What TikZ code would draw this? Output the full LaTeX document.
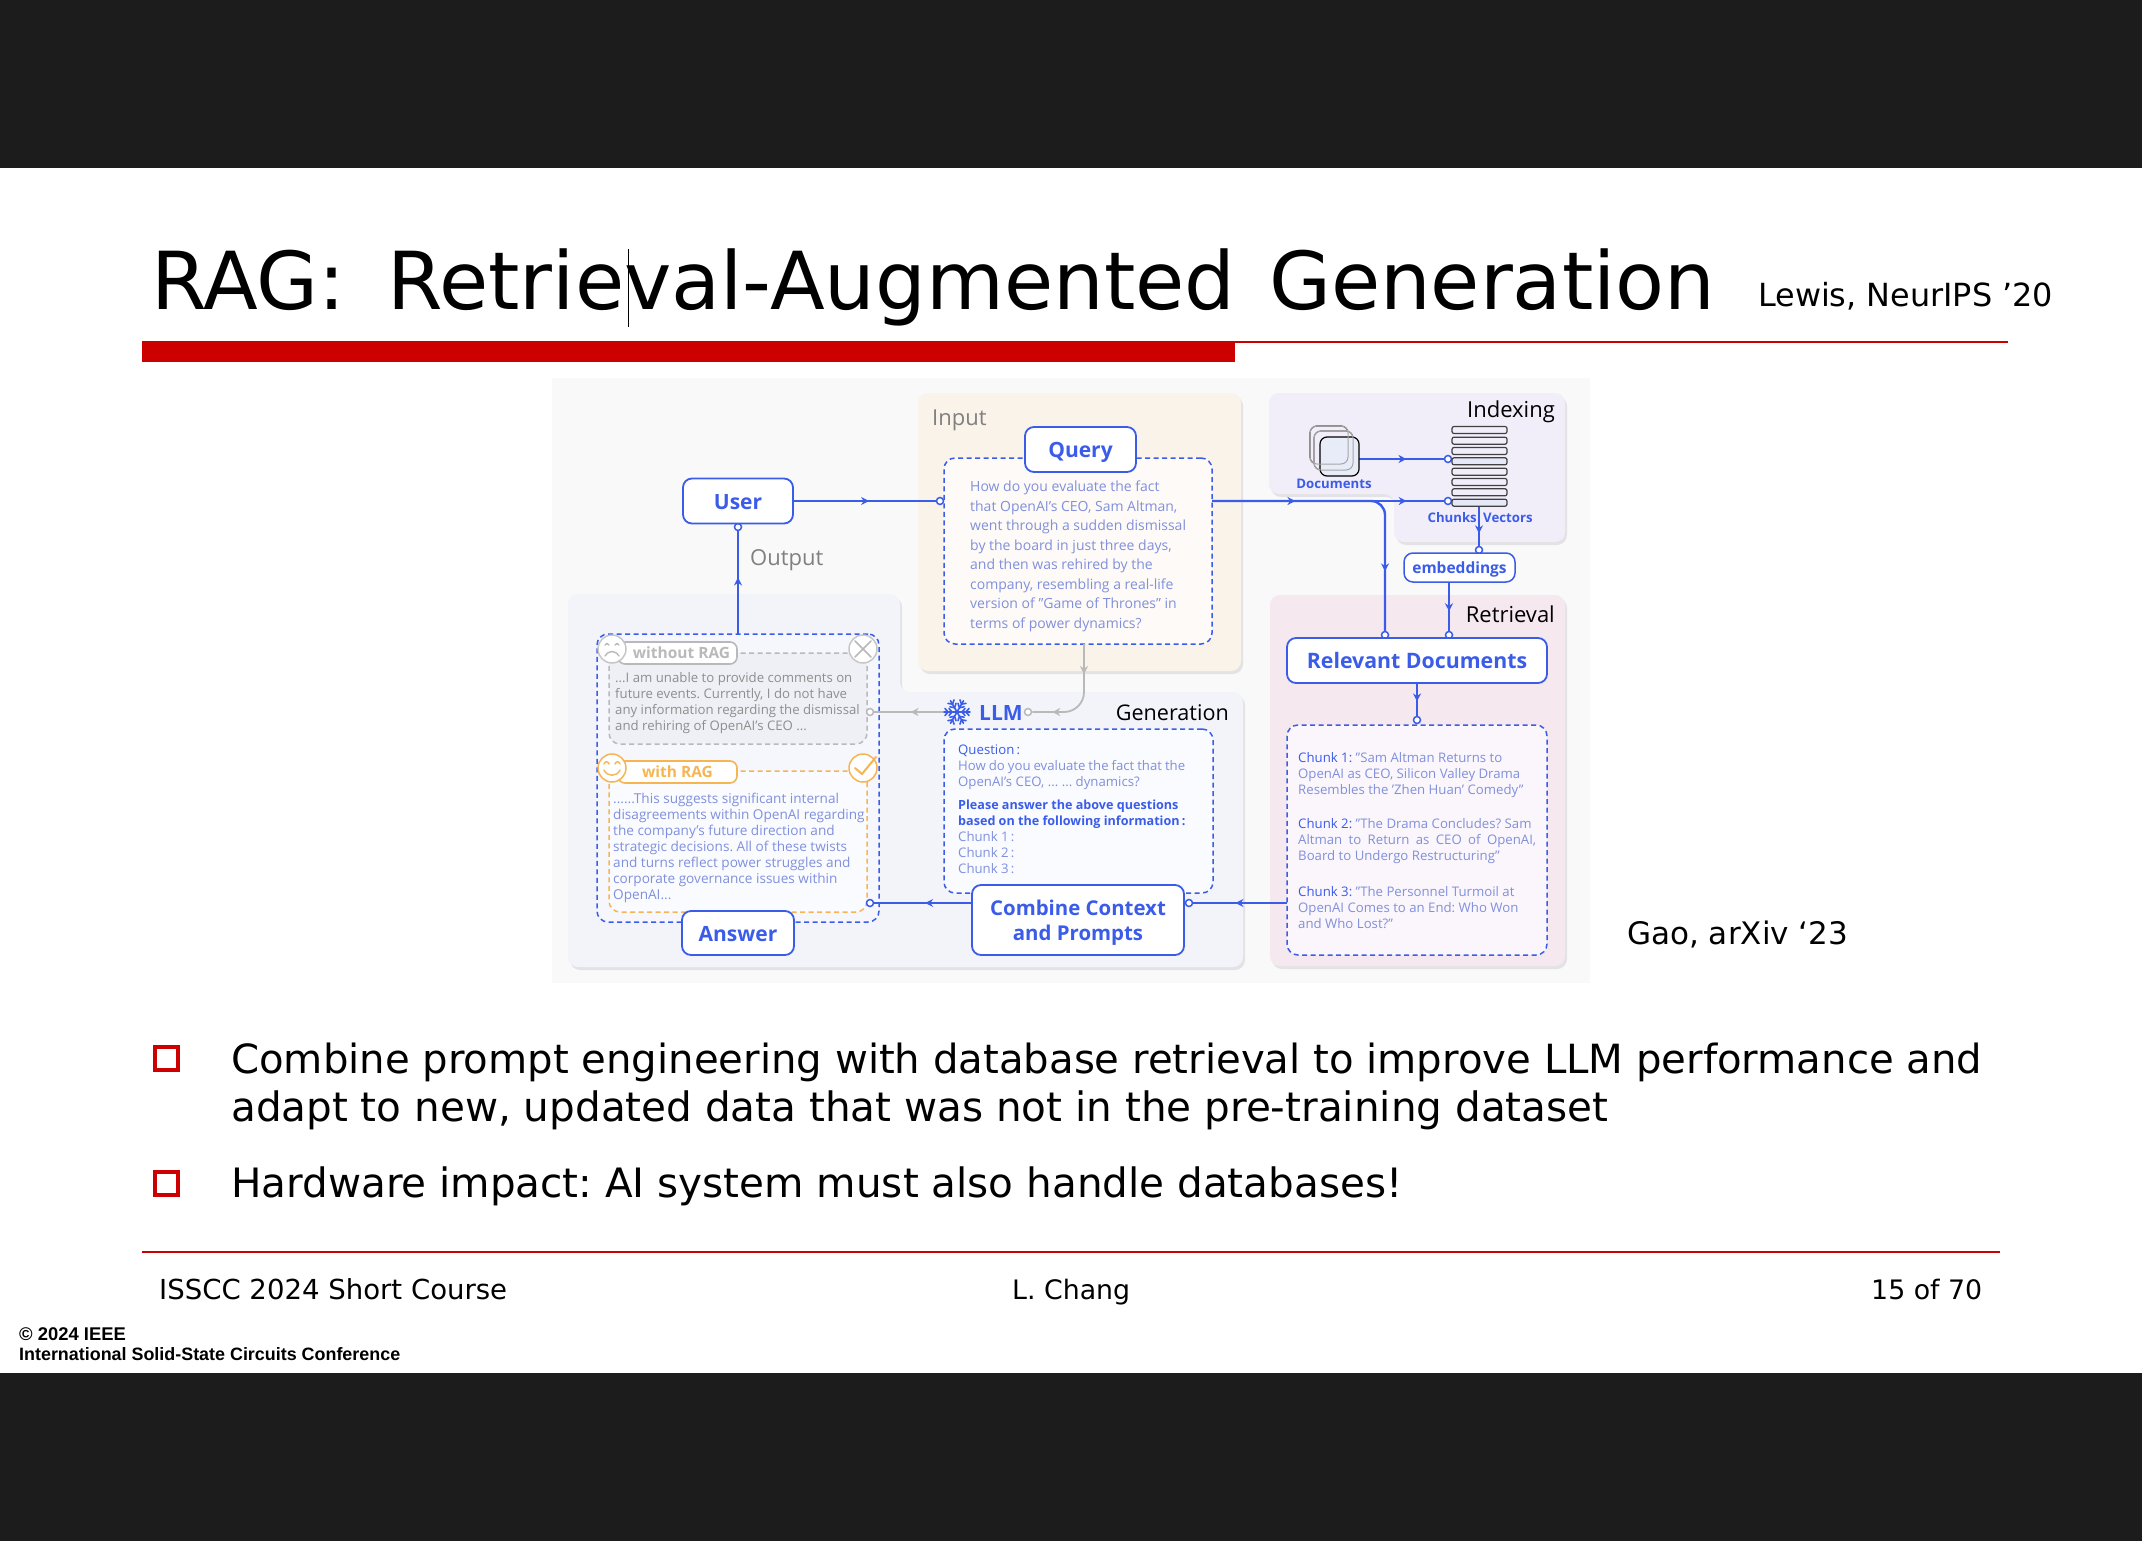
\documentclass[tikz,border=0pt]{standalone}
\usepackage{fontspec}
\usepackage{graphicx}
\usetikzlibrary{arrows.meta,decorations.markings}
\setmainfont{Open Sans}
\newfontfamily\djv{DejaVu Sans}
\newfontfamily\lib{Liberation Sans}
\newcommand\fsz[1]{\fontsize{#1}{#1}\selectfont}
\newcommand\fsl[2]{\fontsize{#1}{#2}\selectfont}
\newcommand\fitw[2]{\resizebox{#1pt}{!}{#2}}
\frenchspacing
\definecolor{blu}{HTML}{3A5CE9}
\definecolor{txtb}{HTML}{8090DC}
\definecolor{gry}{HTML}{B9B9B9}
\definecolor{gtx}{HTML}{8E8E8E}
\definecolor{org}{HTML}{F6B552}
\definecolor{redd}{HTML}{CC0000}
\definecolor{shad}{HTML}{E3E3E6}
\definecolor{pinput}{HTML}{FAF3E9}
\definecolor{pgen}{HTML}{F2F4FA}
\definecolor{pidx}{HTML}{F1EEFA}
\definecolor{pret}{HTML}{F5E8EE}
\definecolor{dqf}{HTML}{FDFAF7}
\definecolor{dgf}{HTML}{FAFBFE}
\definecolor{drf}{HTML}{FAF6FB}
\definecolor{dof}{HTML}{F5F7FD}
\definecolor{dnf}{HTML}{EEF0F5}
\definecolor{dwf}{HTML}{FAFBFF}
\definecolor{barf}{HTML}{E5E9F7}
\definecolor{docf}{HTML}{E8ECF8}
\tikzset{
  x=1pt,y=-1pt,
  lbl/.style={inner sep=0pt,anchor=base west},
  para/.style={inner sep=0pt,anchor=north west,align=left},
  bbox/.style={draw=blu,fill=white,line width=1.8pt,rounded corners=9pt,inner sep=0pt,text=blu,font=\bfseries,align=center},
  dbox/.style={draw=blu,line width=1.5pt,dash pattern=on 5pt off 3.5pt,rounded corners=11pt,inner sep=0pt},
  dot/.style={circle,draw=blu,fill=white,line width=1.5pt,minimum size=7pt,inner sep=0pt},
  gdot/.style={dot,draw=gry},
  conn/.style={draw=blu,line width=2.4pt},
  thin conn/.style={draw=blu,line width=1.8pt},
  gconn/.style={draw=gry,line width=1.8pt},
  arr/.style={postaction={decorate},decoration={markings,mark=at position #1 with {\arrow{Stealth[length=8pt,width=8pt]}}}},
  arrr/.style 2 args={postaction={decorate},decoration={markings,mark=at position #1 with {\arrow{Stealth[length=8pt,width=8pt]}},mark=at position #2 with {\arrow{Stealth[length=8pt,width=8pt]}}}},
  facec/.style={circle,fill=white,line width=1.5pt,minimum size=28pt,inner sep=0pt},
  pill/.style={fill=white,line width=1.6pt,rounded corners=7pt,inner sep=0pt,font=\bfseries\fsz{15.5}},
  bullet/.style={draw=redd,line width=4.4pt,minimum size=23pt,inner sep=0pt},
  stackbar/.style={draw=black!75,line width=1.2pt,rounded corners=2pt},
  big text/.style={text height=19pt,text depth=3pt},
}
\begin{document}
\begin{tikzpicture}
\useasboundingbox (0,0) rectangle (2142,1541);
\fill[white] (0,0) rectangle (2142,1541);
\fill[black!89] (0,0) rectangle (2142,168);
\fill[black!89] (0,1373) rectangle (2142,1541);

% slide head
\node[lbl] (title) at (151,309) {\fitw{1564}{\djv\fsz{80}RAG:\hskip 0.52em Retrieval-Augmented\hskip 0.42em Generation}};
\fill[black] (628,249) rectangle (629.2,327);
\node[lbl] (lewis) at (1758,306) {\fitw{295}{\djv\fsz{30}Lewis, NeurIPS ’20}};
\fill[redd] (142,341) rectangle (1235,362);
\fill[redd] (1235,341) rectangle (2008,343);

% figure background
\fill[black!2.5] (552,378) rectangle (1590,983);

% panels
\fill[shad,shift={(2,3)},rounded corners=10pt] (918,393) rectangle (1241,671);
\fill[pinput,rounded corners=10pt] (918,393) rectangle (1241,671);
\fill[shad,shift={(2,3)},rounded corners=10pt] (568,594) -- (900,594) -- (900,692) -- (1243,692) -- (1243,967) -- (568,967) -- cycle;
\fill[pgen,rounded corners=10pt] (568,594) -- (900,594) -- (900,692) -- (1243,692) -- (1243,967) -- (568,967) -- cycle;
\fill[shad,shift={(2,3)},rounded corners=10pt] (1269,393) -- (1565,393) -- (1565,542) -- (1394,542) -- (1394,494) -- (1269,494) -- cycle;
\fill[pidx,rounded corners=10pt] (1269,393) -- (1565,393) -- (1565,542) -- (1394,542) -- (1394,494) -- (1269,494) -- cycle;
\fill[shad,shift={(2,3)},rounded corners=10pt] (1270,595) rectangle (1565,966);
\fill[pret,rounded corners=10pt] (1270,595) rectangle (1565,966);

% panel titles
\node[lbl,text=black!50] (tinput) at (932,425) {\fsz{22}Input};
\node[lbl,text=black!50] (toutput) at (750,565) {\fsz{22}Output};
\node[inner sep=0pt,anchor=base east] (tindex) at (1555,417) {\fsz{22}Indexing};
\node[inner sep=0pt,anchor=base east] (tretr) at (1555,622) {\fsz{22}Retrieval};
\node[inner sep=0pt,anchor=base east] (tgen) at (1229,720) {\fsz{21.6}Generation};

% dashed containers
\node[dbox,fill=dqf,minimum width=268pt,minimum height=186pt] (qd) at (1078,551) {};
\node[dbox,fill=dgf,minimum width=269pt,minimum height=164pt] (gd) at (1078.5,811) {};
\node[dbox,fill=drf,minimum width=260pt,minimum height=230pt] (rd) at (1417,840) {};
\node[dbox,fill=dof,minimum width=282pt,minimum height=288pt] (od) at (738,778) {};
\node[dbox,draw=gry,fill=dnf,minimum width=258pt,minimum height=91pt] (nr) at (738,698.5) {};
\node[dbox,draw=org,fill=dwf,minimum width=258pt,minimum height=141pt] (wr) at (738,841.5) {};

% text blocks
\node[para,text=txtb,font=\fsl{14}{19.5}] (qt) at (970,481) {How do you evaluate the fact\\that OpenAI's CEO, Sam Altman,\\went through a sudden dismissal\\by the board in just three days,\\and then was rehired by the\\company, resembling a real-life\\version of "Game of Thrones" in\\terms of power dynamics?};
\node[para,text=gtx,font=\fsl{13.2}{16}] (nt) at (615,672) {...I am unable to provide comments on\\future events. Currently, I do not have\\any information regarding the dismissal\\and rehiring of OpenAI's CEO ...};
\node[para,text=txtb,font=\fsl{13.6}{16}] (wt) at (613,793) {......This suggests significant internal\\disagreements within OpenAI regarding\\the company's future direction and\\strategic decisions. All of these twists\\and turns reflect power struggles and\\corporate governance issues within\\OpenAI...};
\node[para,text=txtb,font=\fsl{13.2}{16}] (gt1) at (958,745) {{\color{blu}Question\,:}\\\makebox[227pt][s]{How do you evaluate the fact that the}\\OpenAI's CEO, ... ... dynamics?};
\node[para,text=txtb,font=\fsl{13.2}{16}] (gt2) at (958,800) {{\color{blu}\fsz{12.6}\bfseries Please answer the above questions}\\{\color{blu}\fsz{12.6}\bfseries based on the following information\,:}\\Chunk 1\,:\\Chunk 2\,:\\Chunk 3\,:};
\node[para,text=txtb,font=\fsl{13.2}{16}] (rt1) at (1298,752.5) {{\color{blu}Chunk 1:} "Sam Altman Returns to\\OpenAI as CEO, Silicon Valley Drama\\Resembles the 'Zhen Huan' Comedy"};
\node[para,text=txtb,font=\fsl{13.2}{16}] (rt2) at (1298,818.5) {{\color{blu}Chunk 2:} "The Drama Concludes? Sam\\\makebox[238pt][s]{Altman to Return as CEO of OpenAI,}\\Board to Undergo Restructuring"};
\node[para,text=txtb,font=\fsl{13.2}{16}] (rt3) at (1298,886.5) {{\color{blu}Chunk 3:} "The Personnel Turmoil at\\OpenAI Comes to an End: Who Won\\and Who Lost?"};

% dots
\node[dot] (dq) at (940,501) {};
\node[dot] (du) at (738,527) {};
\node[dot] (ds1) at (1448,459) {};
\node[dot] (ds2) at (1448,501) {};
\node[dot] (dem) at (1479,550) {};
\node[dot] (dr1) at (1385,635) {};
\node[dot] (dr2) at (1449,635) {};
\node[dot] (drd) at (1417,720) {};
\node[dot] (dcb) at (1189,903) {};
\node[dot] (dan) at (870,903) {};
\node[gdot] (dll) at (1028,712) {};
\node[gdot] (dnr) at (870,712) {};

% solid boxes
\node[bbox,big text,font=\bfseries\fsz{21},minimum width=110pt,minimum height=45pt] (user) at (738,501) {User};
\node[bbox,big text,font=\bfseries\fsz{21},minimum width=111pt,minimum height=45pt] (query) at (1080.5,449.5) {Query};
\node[bbox,big text,font=\bfseries\fsz{21},minimum width=112pt,minimum height=44pt] (answer) at (738,933) {Answer};
\node[bbox,minimum width=212pt,minimum height=70pt] (combine) at (1078,920) {};
\node[inner sep=0pt,text=blu,align=center,font=\bfseries\fsl{20.4}{25}] (combt) at (1078,922.5) {Combine Context\\and Prompts};
\node[bbox,big text,font=\bfseries\fsz{21.3},minimum width=260pt,minimum height=45pt] (rel) at (1417,660.5) {Relevant Documents};
\node[bbox,text height=15pt,text depth=4pt,font=\bfseries\fsz{15.5},line width=1.5pt,minimum width=111pt,minimum height=29pt] (emb) at (1459.5,567.5) {embeddings};

% named free ends
\coordinate (qout) at (1212,501);
\coordinate (qbot) at (1084,644);
\coordinate (odtop) at (738,634);
\coordinate (docr) at (1359,459);
\coordinate (stk) at (1479,507);
\coordinate (embl) at (1449,582);
\coordinate (rdl) at (1287,903);
\coordinate (cbl) at (972,903);
\coordinate (snl) at (944,712);

% connectors
\draw[conn,arr=0.53] (user.east) -- (dq);
\draw[conn,arrr={0.36}{0.84}] (qout) -- (ds2);
\draw[conn,rounded corners=14pt,arr=0.80] (qout) -| (dr1);
\draw[thin conn,arr=0.55] (odtop) -- (du);
\draw[conn,arr=0.56] (docr) -- (ds1);
\draw[conn,arr=0.68] (stk) -- (dem);
\draw[conn,arr=0.60] (embl) -- (dr2);
\draw[conn,arr=0.55] (rel.south) -- (drd);
\draw[thin conn,arr=0.55] (rdl) -- (dcb);
\draw[thin conn,arr=0.48] (cbl) -- (dan);
\draw[gconn,rounded corners=20pt,arrr={0.27}{0.82}] (qbot) |- (dll);
\draw[gconn,arr=0.48] (snl) -- (dnr);

% LLM
\node[lbl,text=blu] (llm) at (979,720) {\bfseries\fsz{21}LLM};
\begin{scope}[shift={(957,712)},blu,line width=1.6pt,line cap=round]
\foreach \a in {0,60,...,300}{
  \begin{scope}[rotate=\a]
   \draw (0,0) -- (13,0);
   \draw (5,0) -- (8,-3.5) (5,0) -- (8,3.5);
   \draw (9,0) -- (12,-3.5) (9,0) -- (12,3.5);
  \end{scope}}
\end{scope}

% without RAG
\node[pill,draw=gry,text=gry,minimum width=119pt,minimum height=22pt] (pn) at (677.5,653) {\hspace*{8pt}without RAG};
\node[facec,draw=gry!80] (sad) at (612,649) {};
\node[facec,draw=gry!80] (xm) at (863,649) {};
\begin{scope}[shift={(612,649)},gry,line width=1.4pt,line cap=round]
\draw (-7,-4) .. controls (-6,-6) and (-4,-6) .. (-3,-4);
\draw (3,-4) .. controls (4,-6) and (6,-6) .. (7,-4);
\draw (-7,7) .. controls (-3,1) and (3,1) .. (7,7);
\end{scope}
\begin{scope}[shift={(863,649)},gry,line width=1.6pt,line cap=round]
\draw (-8,-8) -- (8,8) (-8,8) -- (8,-8);
\end{scope}

% with RAG
\node[pill,draw=org,text=org,minimum width=119pt,minimum height=22pt] (pw) at (677.5,772) {with RAG};
\node[facec,draw=org] (smile) at (612,768) {};
\node[facec,draw=org] (chk) at (863,768) {};
\begin{scope}[shift={(612,768)},org,line width=1.4pt,line cap=round]
\draw (-8,-4) .. controls (-7,-7) and (-4,-7) .. (-3,-4);
\draw (3,-4) .. controls (4,-7) and (7,-7) .. (8,-4);
\draw (-8,2) .. controls (-5,9) and (5,9) .. (8,2);
\end{scope}
\begin{scope}[shift={(863,768)},org,line width=2pt,line cap=round,line join=round]
\draw (-8,0) -- (-1,6) -- (13,-11);
\end{scope}

% documents icon
\draw[black!70,fill=pidx,line width=1.2pt,rounded corners=7pt] (1310,426) rectangle (1348,464);
\draw[black!55,fill=pidx,line width=1.2pt,rounded corners=7pt] (1314,431) rectangle (1353,470);
\draw[black,fill=docf,line width=1.2pt,rounded corners=7pt] (1320,437) rectangle (1359,476);
\draw[black!35,line width=1pt,rounded corners=7pt] (1310,426) rectangle (1348,464);
\draw[black!35,line width=1pt,rounded corners=7pt] (1314,431) rectangle (1353,470);
\node[inner sep=0pt,text=blu] (tdocs) at (1334,484) {\bfseries\fsz{13.2}Documents};

% chunks stack
\foreach \yy in {430,440.7,451,471.7,482,492.3}{
  \draw[stackbar,fill=pidx] (1452,\yy-3.5) rectangle (1507,\yy+3.5);}
\foreach \yy in {461.3,502.7}{
  \draw[stackbar,fill=barf] (1452,\yy-3.5) rectangle (1507,\yy+3.5);}
\node[inner sep=0pt,anchor=east,text=blu] (tch) at (1477,518) {\bfseries\fsz{13.2}Chunks};
\node[inner sep=0pt,anchor=west,text=blu] (tve) at (1483,518) {\bfseries\fsz{13.2}Vectors};

% caption
\node[lbl] (gao) at (1627,944) {\fitw{221}{\djv\fsz{30}Gao, arXiv ‘23}};

% bullets
\node[bullet] (b1) at (166.5,1058.5) {};
\node[bullet] (b2) at (166.5,1183.5) {};
\node[lbl] (l1) at (231,1073) {\fitw{1751}{\djv\fsz{40}Combine prompt engineering with database retrieval to improve LLM performance and}};
\node[lbl] (l2) at (231,1121) {\fitw{1377}{\djv\fsz{40}adapt to new, updated data that was not in the pre-training dataset}};
\node[lbl] (l3) at (231,1197.5) {\fitw{1171}{\djv\fsz{40}Hardware impact: AI system must also handle databases!}};

% footer
\fill[red!80!black] (142,1251.2) rectangle (2000,1252.8);
\node[lbl] (f1) at (159,1299) {\fitw{348}{\djv\fsz{26}ISSCC 2024 Short Course}};
\node[lbl] (f2) at (1012,1299) {\fitw{118}{\djv\fsz{26}L. Chang}};
\node[lbl] (f3) at (1871,1299) {\fitw{111}{\djv\fsz{26}15 of 70}};
\node[lbl] (c1) at (19,1340) {\lib\bfseries\fsz{18.4}© 2024 IEEE};
\node[lbl] (c2) at (19,1360) {\fitw{381}{\lib\bfseries\fsz{18.4}International Solid-State Circuits Conference}};
\end{tikzpicture}
\end{document}
